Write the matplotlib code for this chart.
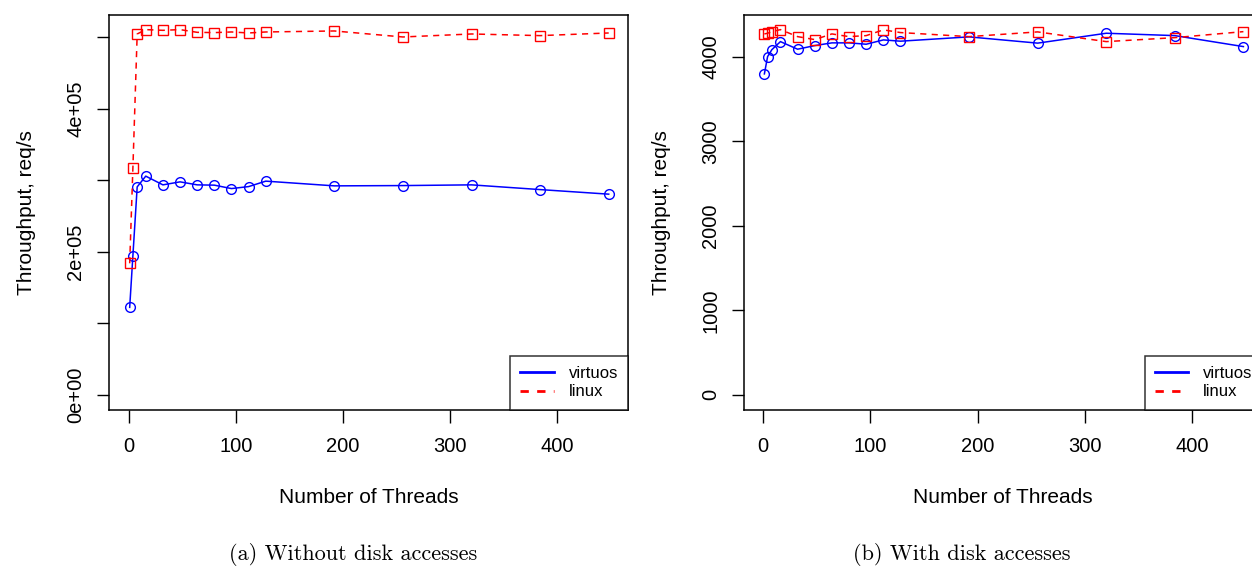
import matplotlib
matplotlib.use("Agg")
import matplotlib.pyplot as plt

plt.rcParams['font.family'] = ['Liberation Sans', 'DejaVu Sans']

# thread counts shared by both experiments
threads = [1, 4, 8, 16, 32, 48, 64, 80, 96, 112, 128, 192, 256, 320, 384, 448]

# (a) without disk accesses, req/s
virtuos_nodisk = [122400, 194700, 290900, 305900, 293700, 297900, 293700, 293300,
                  288500, 291300, 298900, 292300, 292700, 293700, 287100, 280700]
linux_nodisk = [184000, 317500, 504700, 510800, 509800, 510800, 507000, 506600,
                507500, 506100, 507500, 508900, 500500, 504700, 502400, 506100]

# (b) with disk accesses, req/s
virtuos_disk = [3799, 4004, 4086, 4181, 4091, 4134, 4166, 4166,
                4150, 4201, 4186, 4237, 4163, 4280, 4252, 4122]
linux_disk = [4272, 4280, 4299, 4323, 4240, 4205, 4272, 4240,
              4252, 4320, 4288, 4240, 4296, 4181, 4228, 4299]

xticks = [0, 100, 200, 300, 400]
yticks_a = [0, 100000, 200000, 300000, 400000, 500000]
ylabels_a = ["0e+00", "", "2e+05", "", "4e+05", ""]
yticks_b = [0, 1000, 2000, 3000, 4000]
ylabels_b = ["0", "1000", "2000", "3000", "4000"]

series_names = ["virtuos", "linux"]
captions = ["(a) Without disk accesses", "(b) With disk accesses"]

W, H = 1252, 572
fig = plt.figure(figsize=(W / 100, H / 100), dpi=100)


def px_axes(left, top, right, bottom):
    return fig.add_axes([left / W, 1 - bottom / H, (right - left) / W, (bottom - top) / H])


def r_range(lo, hi):
    pad = 0.04 * (hi - lo)
    return lo - pad, hi + pad


def draw_panel(ax, virt, lin, yticks, ylabels):
    ax.plot(threads, virt, color='#0000ff', lw=1.1, marker='o', ms=7,
            mfc='none', mec='#0000ff', mew=1.0, label=series_names[0])
    ax.plot(threads, lin, color='#ff0000', lw=1.1, ls=(0, (4, 3.5)), marker='s', ms=6.5,
            mfc='none', mec='#ff0000', mew=1.0, label=series_names[1])
    ax.set_xlim(-18.3, 466)
    ax.set_ylim(*r_range(0, max(max(virt), max(lin))))
    ax.set_xticks(xticks)
    ax.set_xticklabels([str(t) for t in xticks])
    ax.set_yticks(yticks)
    ax.set_yticklabels(ylabels, rotation=90, va='center')
    ax.tick_params(direction='out', length=9, width=1, labelsize=14.5)
    ax.tick_params(axis='x', pad=11)
    ax.tick_params(axis='y', pad=8)
    for s in ax.spines.values():
        s.set_linewidth(1.1)
    ax.set_xlabel("Number of Threads", fontsize=15, labelpad=23)
    ax.set_ylabel("Throughput, req/s", fontsize=15, labelpad=22)
    leg = ax.legend(loc='lower right', handles=[
        plt.Line2D([], [], color='#0000ff', lw=2),
        plt.Line2D([], [], color='#ff0000', lw=2, ls=(0, (3, 3))),
    ], labels=series_names, fontsize=12, frameon=True, fancybox=False,
        borderaxespad=0, handlelength=2.0, handletextpad=0.9, labelspacing=0.2,
        borderpad=0.6)
    leg.get_frame().set_edgecolor('black')
    leg.get_frame().set_linewidth(1.1)


ax_a = px_axes(109, 15, 628, 409.5)
draw_panel(ax_a, virtuos_nodisk, linux_nodisk, yticks_a, ylabels_a)

ax_b = px_axes(743.7, 15, 1262.7, 409.5)
draw_panel(ax_b, virtuos_disk, linux_disk, yticks_b, ylabels_b)

fig.text(353.5 / W, 1 - 554 / H, captions[0], family='cmr10', fontsize=16, ha='center', va='center')
fig.text(962 / W, 1 - 554 / H, captions[1], family='cmr10', fontsize=16, ha='center', va='center')

fig.savefig("out.png", dpi=100)
